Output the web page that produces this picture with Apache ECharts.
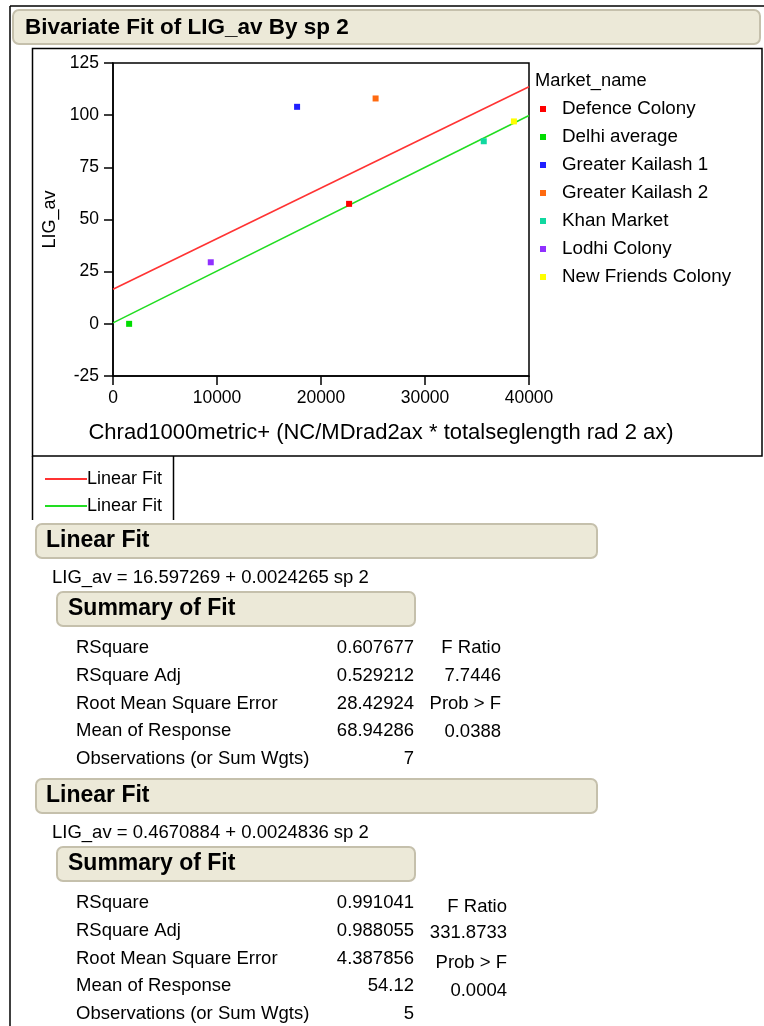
<!DOCTYPE html>
<html>
<head>
<meta charset="utf-8">
<script src="https://cdn.jsdelivr.net/npm/echarts@6/dist/echarts.min.js"></script>
<style>
html,body{margin:0;padding:0;background:#fff;}
#chart{width:764px;height:1026px;}
</style>
</head>
<body>
<div id="chart"></div>
<script>
// ---- data ----
const markets = ['Defence Colony','Delhi average','Greater Kailash 1','Greater Kailash 2','Khan Market','Lodhi Colony','New Friends Colony'];
const spValues = [22700, 1550, 17700, 25250, 35650, 9400, 38550];
const ligValues = [57.5, 0, 104, 108, 87.5, 29.5, 97];
const markerColors = ['#FF0000','#00DD00','#2020FF','#FF6A10','#10D8A0','#9030FF','#FFFF00'];

const fitNames = ['Linear Fit','Linear Fit'];
const fitIntercepts = [16.597269, 0.4670884];
const fitSlopes = [0.0024265, 0.0024836];
const fitColors = ['#FF3333','#22DD22'];
const xRange = [0, 40000];
const yRange = [-25, 125];

const fitEquations = ['LIG_av = 16.597269 + 0.0024265 sp 2', 'LIG_av = 0.4670884 + 0.0024836 sp 2'];
const summaryLabels = ['RSquare','RSquare Adj','Root Mean Square Error','Mean of Response','Observations (or Sum Wgts)'];
const summaryValues1 = ['0.607677','0.529212','28.42924','68.94286','7'];
const summaryValues2 = ['0.991041','0.988055','4.387856','54.12','5'];
const anovaText1 = ['F Ratio','7.7446','Prob > F','0.0388'];
const anovaText2 = ['F Ratio','331.8733','Prob > F','0.0004'];

// ---- layout / style ----
const FF = '"Liberation Sans", Arial, sans-serif';
const HDR_FILL = '#ECE9D8', HDR_STROKE = '#C5C0AC';

function txt(x, y, s, size, opts) {
  opts = opts || {};
  return {type:'text', x:x, y:y, silent:true, z:10,
    style:{text:s, font:(opts.bold?'bold ':'') + size + 'px ' + FF, fill:'#000',
      textAlign:opts.align||'left', textVerticalAlign:'middle'}};
}
function hdrBox(x, y, w, h) {
  return {type:'rect', silent:true, z:5, shape:{x:x, y:y, width:w, height:h, r:6},
    style:{fill:HDR_FILL, stroke:HDR_STROKE, lineWidth:2}};
}
function hline(x1, y1, x2, y2, color, w) {
  return {type:'line', silent:true, z:6, shape:{x1:x1,y1:y1,x2:x2,y2:y2}, style:{stroke:color||'#000', lineWidth:w||1.5}};
}

const graphics = [];
// outer frame
graphics.push(hline(10, 6, 764, 6, '#000', 1.5));
graphics.push(hline(10, 6, 10, 1026, '#000', 1.5));
// title header
graphics.push(hdrBox(13, 10, 747, 34));
graphics.push(txt(25, 28, 'Bivariate Fit of LIG_av By sp 2', 22.5, {bold:true}));
// plot frame
graphics.push({type:'rect', silent:true, z:4, shape:{x:32.5, y:48.5, width:729.5, height:407.5},
  style:{fill:'none', stroke:'#000', lineWidth:1.5}});
// legend title
graphics.push(txt(535, 81, 'Market_name', 18.3));
// x axis title
graphics.push(txt(381, 433, 'Chrad1000metric+ (NC/MDrad2ax * totalseglength rad 2 ax)', 22, {align:'center'}));
// fit legend box
graphics.push(hline(32.5, 456, 32.5, 520, '#000', 1.5));
graphics.push(hline(173.5, 456, 173.5, 520, '#000', 1.5));
const fitLegendY = [479, 506];
fitNames.forEach(function(n, i){
  graphics.push(hline(45, fitLegendY[i], 87, fitLegendY[i], fitColors[i], 2));
  graphics.push(txt(87, fitLegendY[i], n, 18));
});

// report tables
function reportBlock(top, eq, vals, anova, anovaYs, anovaRight) {
  graphics.push(hdrBox(36, top, 561, 34));
  graphics.push(txt(46, top + 17, 'Linear Fit', 23, {bold:true}));
  graphics.push(txt(52, top + 54, eq, 18.5));
  graphics.push(hdrBox(57, top + 68, 358, 34));
  graphics.push(txt(68, top + 85, 'Summary of Fit', 23, {bold:true}));
  const rowYs = [top + 124, top + 151.5, top + 179.5, top + 207, top + 235];
  summaryLabels.forEach(function(l, i){
    graphics.push(txt(76, rowYs[i], l, 18.5));
    graphics.push(txt(414, rowYs[i], vals[i], 18.5, {align:'right'}));
  });
  anova.forEach(function(a, i){
    graphics.push(txt(anovaRight, anovaYs[i], a, 18.5, {align:'right'}));
  });
}
reportBlock(524, fitEquations[0], summaryValues1, anovaText1, [648, 675.5, 704, 732], 501);
reportBlock(779, fitEquations[1], summaryValues2, anovaText2, [907, 933, 963, 991], 507);

// ---- series ----
const series = [];
fitNames.forEach(function(n, i){
  series.push({name:n, type:'line', silent:true, showSymbol:false, z:2,
    data: xRange.map(function(x){ return [x, fitIntercepts[i] + fitSlopes[i]*x]; }),
    lineStyle:{color:fitColors[i], width:1.6}, itemStyle:{color:fitColors[i]}});
});
markets.forEach(function(m, i){
  series.push({name:m, type:'scatter', symbol:'rect', symbolSize:6, z:3,
    data:[[spValues[i], ligValues[i]]], itemStyle:{color:markerColors[i], opacity:1}});
});

const axisCommon = {
  axisLine:{show:true, onZero:false, lineStyle:{color:'#000', width:1.5}},
  axisTick:{show:true, inside:false, length:9, lineStyle:{color:'#000', width:1.5}},
  splitLine:{show:false},
};

const chart = echarts.init(document.getElementById('chart'), null, {renderer:'canvas'});
chart.setOption({
  animation:false,
  backgroundColor:'#fff',
  grid:{left:113, top:63, width:416, height:313, show:true, borderColor:'#000', borderWidth:1.5, backgroundColor:'transparent', containLabel:false},
  xAxis:Object.assign({type:'value', min:xRange[0], max:xRange[1], interval:10000,
    axisLabel:{color:'#000', fontSize:17.5, fontFamily:FF, margin:13, formatter:function(v){ return String(v); }}}, axisCommon),
  yAxis:Object.assign({type:'value', min:yRange[0], max:yRange[1], interval:25,
    name:'LIG_av', nameLocation:'middle', nameGap:46, nameRotate:90,
    nameTextStyle:{color:'#000', fontSize:18, fontFamily:FF},
    axisLabel:{color:'#000', fontSize:17.5, fontFamily:FF, margin:14, formatter:function(v){ return String(v); }}}, axisCommon),
  legend:{data:markets, orient:'vertical', left:540, top:99, padding:0, itemGap:8,
    itemWidth:6, itemHeight:6, icon:'rect', selectedMode:false,
    textStyle:{color:'#000', fontSize:18.8, fontFamily:FF, lineHeight:20, padding:[0,0,0,11]}},
  tooltip:{show:false},
  series:series,
  graphic:{elements:graphics}
});
</script>
</body>
</html>
